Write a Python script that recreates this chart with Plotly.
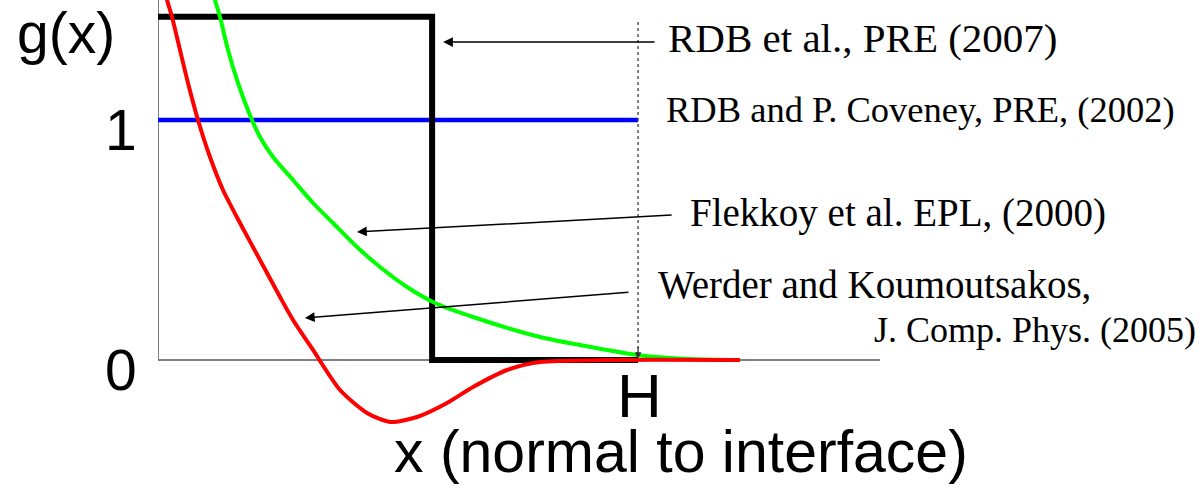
import plotly.graph_objects as go

# Position normal to the interface, in units of H
x_green = [0.1146, 0.1188, 0.1292, 0.1458, 0.1667, 0.1958, 0.2125, 0.2396, 0.2813,
           0.3229, 0.3646, 0.4146, 0.4625, 0.5188, 0.5771, 0.6563, 0.7958, 0.9354,
           0.9979, 1.1083, 1.2125]
g_green = [1.5417, 1.5, 1.4292, 1.2917, 1.1542, 1.0, 0.9292, 0.8458, 0.75,
           0.6542, 0.5708, 0.4708, 0.3875, 0.3042, 0.2375, 0.1792, 0.0958, 0.0417,
           0.0208, 0.0042, 0.0]

x_red = [0.0125, 0.0188, 0.0292, 0.0458, 0.0625, 0.0833, 0.1083, 0.1354, 0.1708,
         0.2125, 0.2542, 0.2813, 0.3229, 0.3792, 0.4354, 0.4833, 0.5396, 0.6021,
         0.6563, 0.7271, 0.7958, 0.9354, 1.2125]
g_red = [1.55, 1.5, 1.4292, 1.2917, 1.1542, 1.0, 0.8458, 0.7083, 0.5708,
         0.4167, 0.2625, 0.1667, 0.0417, -0.125, -0.2208, -0.2583, -0.2375, -0.1792,
         -0.1125, -0.0417, -0.0083, 0.0, 0.0]

x_step = [0.0, 0.571, 0.571, 1.0]
g_step = [1.43, 1.43, 0.0, 0.0]

x_flat = [0.0, 1.0]
g_flat = [1.0, 1.0]

y_ticks = [0, 1]
y_tick_text = ["0", "1"]
x_ticks = [1.0]
x_tick_text = ["H"]

refs = [
    "RDB et al., PRE (2007)",
    "RDB and P. Coveney, PRE, (2002)",
    "Flekkoy et al. EPL, (2000)",
    "Werder and Koumoutsakos,",
    "J. Comp. Phys. (2005)",
]

X_MAX = 1.504
Y_MIN, Y_MAX = -0.2917, 1.5

SANS = "Liberation Sans, Arial, sans-serif"
SERIF = "Liberation Serif, Times New Roman, serif"
GRAY = "#7f7f7f"


def px(x):
    """data x -> paper x"""
    return x / X_MAX


def py(y):
    """data y -> paper y"""
    return (y - Y_MIN) / (Y_MAX - Y_MIN)


fig = go.Figure()

# axes drawn as plain gray lines
fig.add_shape(type="line", x0=0, x1=0, y0=0, y1=Y_MAX, xref="x", yref="y",
              line=dict(color=GRAY, width=2), layer="below")
fig.add_shape(type="line", x0=0, x1=X_MAX, y0=0, y1=0, xref="x", yref="y",
              line=dict(color=GRAY, width=2), layer="below")

fig.add_trace(go.Scatter(x=x_flat, y=g_flat, mode="lines",
                         line=dict(color="#0000ff", width=4.5)))
fig.add_trace(go.Scatter(x=x_step, y=g_step, mode="lines",
                         line=dict(color="#000000", width=6)))
fig.add_trace(go.Scatter(x=x_green, y=g_green, mode="lines",
                         line=dict(color="#00ff00", width=4, shape="spline", smoothing=0.7)))
fig.add_trace(go.Scatter(x=x_red, y=g_red, mode="lines",
                         line=dict(color="#ff0000", width=4, shape="spline", smoothing=0.7)))

# dotted marker at x = H
fig.add_shape(type="line", x0=x_ticks[0], x1=x_ticks[0], y0=1.408, y1=0.02,
              xref="x", yref="y", line=dict(color="#555555", width=1.5, dash="dot"))
fig.add_annotation(x=x_ticks[0], y=0.005, ax=x_ticks[0], ay=0.06,
                   xref="x", yref="y", axref="x", ayref="y", text="",
                   showarrow=True, arrowhead=2, arrowsize=1, arrowwidth=1.3,
                   arrowcolor="#333333")

# tick labels
for v, t in zip(y_ticks, y_tick_text):
    fig.add_annotation(x=px(0), y=py(v), xref="paper", yref="paper", text=t,
                       showarrow=False, xanchor="right", yanchor="middle",
                       xshift=-19, yshift=-10,
                       font=dict(family=SANS, size=57, color="black"))
for v, t in zip(x_ticks, x_tick_text):
    fig.add_annotation(x=px(v), y=py(0), xref="paper", yref="paper", text=t,
                       showarrow=False, xanchor="center", yanchor="middle",
                       xshift=1, yshift=-36,
                       font=dict(family=SANS, size=62, color="black"))

# axis titles
fig.add_annotation(x=px(-0.1917), y=py(1.362), xref="paper", yref="paper",
                   text="g(x)", showarrow=False, xanchor="center", yanchor="middle",
                   font=dict(family=SANS, size=57, color="black"))
fig.add_annotation(x=px(1.0896), y=py(-0.3833), xref="paper", yref="paper",
                   text="x (normal to interface)", showarrow=False,
                   xanchor="center", yanchor="middle",
                   font=dict(family=SANS, size=59, color="black"))

# reference labels
label_pos = [
    (1.0583, 1.342, "left", 41),
    (1.054, 1.0417, "left", 36.5),
    (1.104, 0.6125, "left", 39),
    (1.0375, 0.3125, "left", 39),
    (2.1667, 0.125, "right", 36),
]
for (lx, ly, anchor, size), t in zip(label_pos, refs):
    fig.add_annotation(x=px(lx), y=py(ly), xref="paper", yref="paper", text=t,
                       showarrow=False, xanchor=anchor, yanchor="middle",
                       font=dict(family=SERIF, size=size, color="black"))

# pointer arrows from labels to curves
arrows = [
    ((0.594, 1.325), (1.0375, 1.325)),
    ((0.4146, 0.5333), (1.073, 0.604)),
    ((0.306, 0.175), (0.983, 0.283)),
]
for (tx, ty), (sx, sy) in arrows:
    fig.add_annotation(x=tx, y=ty, ax=sx, ay=sy, xref="x", yref="y",
                       axref="x", ayref="y", text="", showarrow=True,
                       arrowhead=2, arrowsize=1.3, arrowwidth=1.5,
                       arrowcolor="black")

fig.update_layout(
    width=1203, height=489,
    margin=dict(l=158, r=323, t=0, b=59),
    paper_bgcolor="white", plot_bgcolor="white",
    showlegend=False,
    xaxis=dict(range=[0, X_MAX], visible=False, fixedrange=True),
    yaxis=dict(range=[Y_MIN, Y_MAX], visible=False, fixedrange=True),
)

fig.write_html("out.html")
